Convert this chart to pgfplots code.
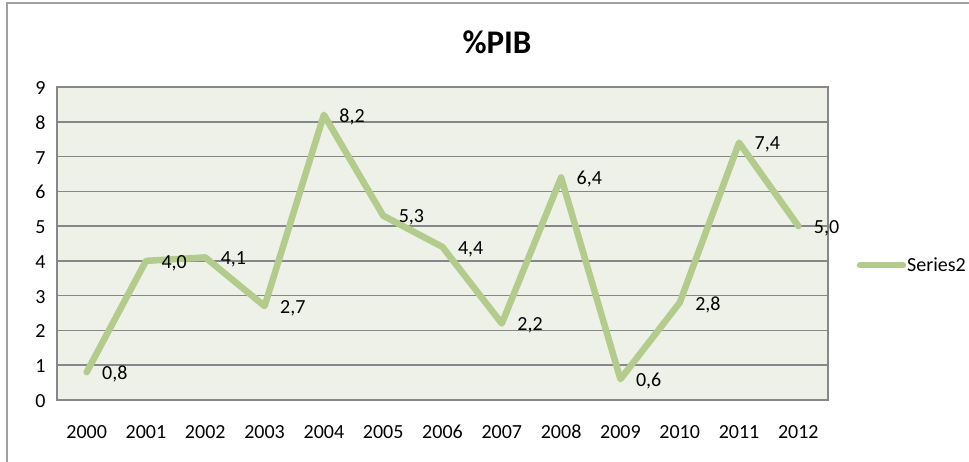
\documentclass[border=0pt]{standalone}
\usepackage{pgfplots}
\pgfplotsset{compat=1.18}
\usepackage{fontspec}
\setmainfont{Carlito}
\definecolor{linegreen}{RGB}{179,203,140}
\definecolor{plotbg}{RGB}{238,241,231}
\definecolor{gridgray}{RGB}{135,135,135}
\definecolor{framegray}{RGB}{160,160,160}

\begin{document}
\begin{tikzpicture}[x=1pt,y=1pt]
\path[use as bounding box] (0,0) rectangle (969,462);
\draw[framegray, line width=1.5pt] (7,0) -- (7,459) -- (969,459);
\node[font=\fontsize{33}{33}\selectfont\bfseries] at (497,420) {\%PIB};
\begin{axis}[
  at={(57pt,62pt)}, anchor=south west,
  scale only axis, width=771pt, height=313pt,
  xmin=-0.5, xmax=12.5, ymin=0, ymax=9,
  xtick={0,1,2,3,4,5,6,7,8,9,10,11,12},
  xticklabels={2000,2001,2002,2003,2004,2005,2006,2007,2008,2009,2010,2011,2012},
  ytick={0,1,2,3,4,5,6,7,8,9},
  axis background/.style={fill=plotbg},
  ymajorgrids, major grid style={gridgray, line width=1.6pt},
  axis line style={gridgray, line width=1.6pt},
  major tick length=0pt,
  tick label style={font=\fontsize{20}{20}\selectfont, text height=13pt, text depth=0pt},
  /pgf/number format/assume math mode=true,
  yticklabel style={xshift=-8pt, yshift=-1pt},
  xticklabel style={yshift=-22pt},
  nodes near coords,
  nodes near coords style={anchor=west, xshift=9pt, yshift=-2pt, text=black, font=\fontsize{20}{20}\selectfont,
    /pgf/number format/.cd, fixed, fixed zerofill, precision=1, use comma, assume math mode=true},
  legend style={at={(1.037,0.431)}, anchor=west, draw=none, fill=none, inner sep=0pt,
    font=\fontsize{20}{20}\selectfont, nodes={inner xsep=1pt}},
  legend image code/.code={\draw[#1, line cap=round] (0pt,0pt) -- (43pt,0pt);},
]
\addplot[linegreen, line width=6.5pt, line join=round, line cap=round, no markers]
  coordinates {(0,0.8) (1,4.0) (2,4.1) (3,2.7) (4,8.2) (5,5.3) (6,4.4) (7,2.2) (8,6.4) (9,0.6) (10,2.8) (11,7.4) (12,5.0)};
\addlegendentry{Series2}
\end{axis}
\end{tikzpicture}
\end{document}
